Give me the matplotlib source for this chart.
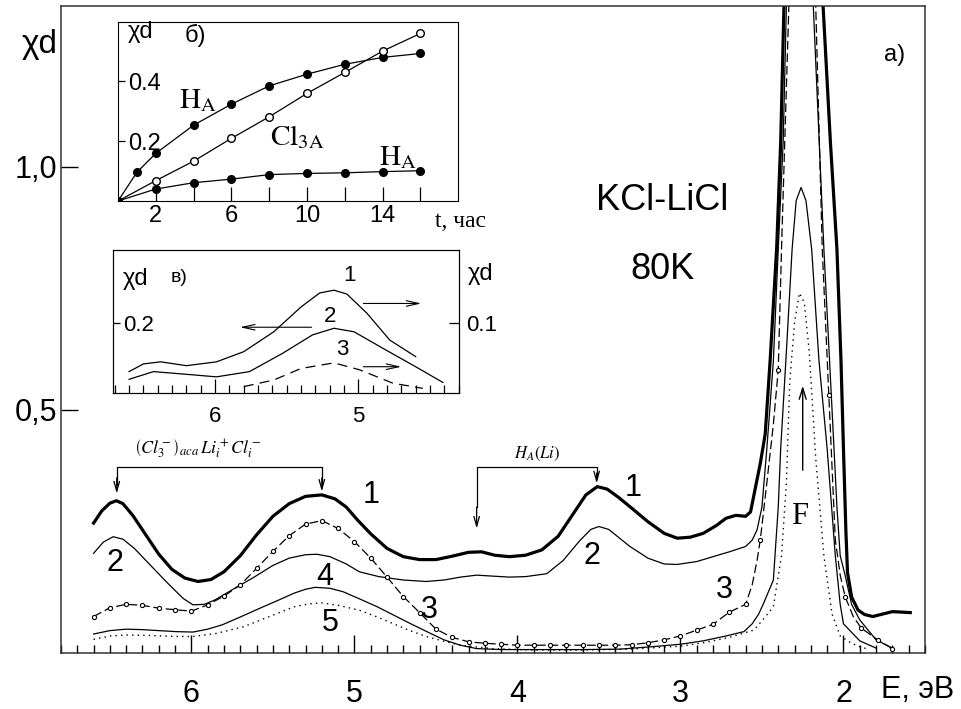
import numpy as np
import matplotlib.pyplot as plt
from matplotlib.ticker import MultipleLocator, FixedLocator

plt.rcParams['font.family'] = ['Liberation Sans', 'DejaVu Sans']
plt.rcParams['mathtext.fontset'] = 'stix'

# ---- main panel a): curves 1..5, E (eV) vs chi*d
E1 = [6.60, 6.55, 6.50, 6.46, 6.42, 6.36, 6.28, 6.20, 6.12, 6.04, 5.96, 5.88, 5.80, 5.70, 5.60, 5.50,
      5.40, 5.30, 5.20, 5.12, 5.05, 4.98, 4.90, 4.80, 4.70, 4.60, 4.50, 4.40, 4.30, 4.22, 4.14, 4.05,
      3.95, 3.85, 3.75, 3.66, 3.58, 3.51, 3.45, 3.38, 3.30, 3.20, 3.10, 3.02, 2.94, 2.86, 2.78, 2.72,
      2.66, 2.60, 2.57, 2.54, 2.51, 2.48, 2.45, 2.41, 2.385, 2.365, 2.33, 2.25, 2.20, 2.15, 2.125,
      2.08, 2.04, 2.015, 2.00, 1.985, 1.975, 1.95, 1.91, 1.87, 1.82, 1.76, 1.70, 1.64, 1.59]
Y1 = [0.267, 0.292, 0.308, 0.313, 0.307, 0.283, 0.243, 0.203, 0.172, 0.154, 0.147, 0.151, 0.167, 0.200,
      0.243, 0.281, 0.307, 0.322, 0.325, 0.317, 0.300, 0.273, 0.245, 0.215, 0.198, 0.192, 0.192, 0.199,
      0.207, 0.208, 0.201, 0.198, 0.201, 0.212, 0.240, 0.285, 0.325, 0.342, 0.337, 0.320, 0.298, 0.270,
      0.246, 0.236, 0.238, 0.246, 0.262, 0.277, 0.283, 0.281, 0.290, 0.340, 0.390, 0.450, 0.600, 0.830,
      1.05, 1.33, 1.80, 2.20, 2.00, 1.60, 1.33, 1.05, 0.83, 0.60, 0.42, 0.25, 0.165, 0.115, 0.088, 0.079,
      0.075, 0.080, 0.085, 0.084, 0.083]

E2 = [6.60, 6.54, 6.48, 6.42, 6.35, 6.25, 6.15, 6.05, 5.99, 5.92, 5.85, 5.75, 5.62, 5.50, 5.40, 5.30,
      5.23, 5.15, 5.05, 4.97, 4.85, 4.70, 4.56, 4.45, 4.35, 4.25, 4.15, 4.05, 3.95, 3.82, 3.72, 3.62,
      3.55, 3.50, 3.44, 3.31, 3.20, 3.10, 3.02, 2.90, 2.80, 2.70, 2.60, 2.56, 2.53, 2.50, 2.47, 2.43,
      2.40, 2.37, 2.35, 2.30, 2.25, 2.20, 2.185, 2.12, 2.07, 2.04, 2.02, 1.99, 1.95, 1.90, 1.80, 1.70]
Y2 = [0.205, 0.228, 0.239, 0.234, 0.215, 0.180, 0.145, 0.112, 0.099, 0.100, 0.110, 0.130, 0.155, 0.180,
      0.195, 0.202, 0.203, 0.198, 0.183, 0.167, 0.157, 0.150, 0.147, 0.150, 0.156, 0.160, 0.158, 0.156,
      0.157, 0.163, 0.190, 0.230, 0.254, 0.260, 0.254, 0.219, 0.195, 0.183, 0.182, 0.188, 0.198, 0.208,
      0.219, 0.232, 0.253, 0.300, 0.420, 0.600, 0.830, 1.05, 1.33, 1.90, 2.10, 1.60, 1.33, 0.83, 0.50,
      0.30, 0.20, 0.16, 0.100, 0.068, 0.027, 0.010]

E3 = [6.60, 6.50, 6.40, 6.30, 6.20, 6.10, 6.00, 5.90, 5.80, 5.70, 5.60, 5.50, 5.40, 5.30, 5.20, 5.10,
      5.00, 4.90, 4.80, 4.70, 4.60, 4.50, 4.40, 4.30, 4.20, 4.10, 4.00, 3.90, 3.80, 3.70, 3.60, 3.50,
      3.40, 3.30, 3.20, 3.10, 3.00, 2.90, 2.80, 2.70, 2.60, 2.56, 2.53, 2.51, 2.47, 2.43, 2.40, 2.38,
      2.335, 2.30, 2.25, 2.20, 2.17, 2.13, 2.09, 2.05, 2.02, 1.99, 1.94, 1.89, 1.79, 1.70]
Y3 = [0.075, 0.093, 0.100, 0.098, 0.092, 0.089, 0.086, 0.099, 0.117, 0.140, 0.174, 0.209, 0.241, 0.265,
      0.272, 0.256, 0.229, 0.195, 0.156, 0.116, 0.083, 0.049, 0.032, 0.023, 0.020, 0.018, 0.016, 0.016,
      0.016, 0.016, 0.016, 0.016, 0.016, 0.017, 0.021, 0.027, 0.035, 0.047, 0.059, 0.084, 0.100, 0.140,
      0.190, 0.233, 0.350, 0.470, 0.582, 0.830, 1.33, 1.80, 2.00, 1.80, 1.33, 0.83, 0.531, 0.233, 0.160,
      0.116, 0.075, 0.051, 0.027, 0.009]
marks3 = [i for i in range(41)] + [43, 46, 54, 57, 59, 60, 61]

E4 = [6.60, 6.50, 6.40, 6.30, 6.20, 6.10, 5.99, 5.90, 5.81, 5.70, 5.58, 5.47, 5.37, 5.30, 5.24, 5.15,
      5.07, 4.96, 4.86, 4.76, 4.66, 4.55, 4.45, 4.35, 4.25, 4.10, 3.90, 3.60, 3.37, 3.17, 3.00, 2.86,
      2.72, 2.61, 2.56, 2.52, 2.49, 2.43, 2.40, 2.385, 2.35, 2.315, 2.29, 2.26, 2.23, 2.195, 2.15, 2.10,
      2.05, 2.02, 2.00, 1.90, 1.80]
Y4 = [0.039, 0.046, 0.049, 0.048, 0.046, 0.044, 0.043, 0.049, 0.058, 0.074, 0.092, 0.108, 0.123, 0.131,
      0.135, 0.133, 0.126, 0.110, 0.095, 0.078, 0.061, 0.043, 0.027, 0.016, 0.009, 0.007, 0.007, 0.007,
      0.008, 0.013, 0.018, 0.025, 0.035, 0.044, 0.060, 0.080, 0.102, 0.150, 0.300, 0.420, 0.620, 0.830,
      0.930, 0.957, 0.930, 0.830, 0.600, 0.420, 0.200, 0.100, 0.060, 0.025, 0.010]

E5 = [6.60, 6.50, 6.40, 6.25, 6.10, 5.99, 5.85, 5.68, 5.52, 5.37, 5.28, 5.20, 5.10, 4.97, 4.86, 4.76,
      4.66, 4.56, 4.45, 4.35, 4.15, 3.90, 3.60, 3.30, 3.00, 2.86, 2.70, 2.55, 2.49, 2.43, 2.38, 2.35,
      2.33, 2.30, 2.27, 2.24, 2.21, 2.17, 2.12, 2.07, 2.02, 1.95, 1.90, 1.85]
Y5 = [0.028, 0.035, 0.037, 0.036, 0.034, 0.034, 0.040, 0.054, 0.075, 0.095, 0.101, 0.103, 0.098, 0.088,
      0.074, 0.060, 0.046, 0.034, 0.024, 0.016, 0.009, 0.006, 0.006, 0.008, 0.014, 0.021, 0.032, 0.047,
      0.070, 0.095, 0.200, 0.350, 0.555, 0.680, 0.740, 0.720, 0.620, 0.400, 0.200, 0.080, 0.035, 0.020,
      0.013, 0.008]

# ---- inset б): growth vs time
t_b = [0, 1, 2, 4, 6, 8, 10, 12, 14, 16]
HA_up = [0, 0.096, 0.159, 0.253, 0.323, 0.384, 0.423, 0.456, 0.479, 0.492]
t_c = [0, 2, 4, 6, 8, 10, 12, 14, 16]
Cl3A = [0, 0.068, 0.133, 0.209, 0.281, 0.359, 0.429, 0.500, 0.559]
HA_low = [0, 0.040, 0.061, 0.073, 0.088, 0.092, 0.094, 0.098, 0.101]

# ---- inset в): spectra 1..3
Ev1 = [6.60, 6.50, 6.38, 6.20, 5.99, 5.80, 5.59, 5.40, 5.27, 5.17, 5.08, 4.94, 4.78, 4.60]
Yv1 = [0.062, 0.084, 0.090, 0.079, 0.090, 0.119, 0.176, 0.247, 0.287, 0.295, 0.284, 0.229, 0.152, 0.105]
Ev2 = [6.60, 6.43, 6.22, 5.99, 5.76, 5.53, 5.32, 5.17, 5.03, 4.83, 4.60, 4.41]
Yv2 = [0.040, 0.062, 0.055, 0.047, 0.062, 0.114, 0.167, 0.186, 0.176, 0.129, 0.076, 0.031]
Ev3 = [5.80, 5.59, 5.40, 5.17, 4.99, 4.76, 4.55]
Yv3 = [0.019, 0.038, 0.071, 0.087, 0.067, 0.029, 0.014]

fig = plt.figure(figsize=(9.62, 7.09), dpi=100)
ax = fig.add_axes([0.0634, 0.079, 0.8981, 0.9125])
ax.set_xlim(6.8, 1.5)
ax.set_ylim(0, 1.33)

ax.plot(E1, Y1, color='black', lw=2.3)
ax.plot(E2, Y2, color='black', lw=0.9)
ax.plot(E3, Y3, color='black', lw=0.9, ls=(0, (7, 3)), marker='o', ms=3, mfc='white', mew=0.8,
        markevery=marks3)
ax.plot(E4, Y4, color='black', lw=0.9)
ax.plot(E5, Y5, color='black', lw=1.0, ls=(0, (1, 3)))

ax.xaxis.set_major_locator(MultipleLocator(1))
ax.xaxis.set_minor_locator(MultipleLocator(0.1))
ax.yaxis.set_major_locator(FixedLocator([0.5, 1.0]))
ax.set_yticklabels(['0,5', '1,0'])
ax.tick_params(axis='x', which='major', direction='in', length=13, width=1, pad=19, labelsize=22)
ax.tick_params(axis='x', which='minor', direction='in', length=6, width=1)
ax.tick_params(axis='y', which='major', direction='in', length=12, width=1, pad=3, labelsize=22)
for s in ax.spines.values():
    s.set_linewidth(1.1)
    s.set_color('#333333')

ax.text(-0.025, 0.94, 'χd', transform=ax.transAxes, fontsize=24, ha='center', va='center')
ax.text(0.991, -0.057, 'E, эВ', transform=ax.transAxes, fontsize=22, ha='center', va='center')
ax.text(0.965, 0.924, 'a)', transform=ax.transAxes, fontsize=17, ha='center', va='center')
ax.text(3.11, 0.93, 'KCl-LiCl', fontsize=26, ha='center', va='center')
ax.text(3.11, 0.788, '80K', fontsize=26, ha='center', va='center')

for lab, e, y in [('1', 4.90, 0.325), ('1', 3.29, 0.34), ('2', 6.47, 0.185), ('2', 3.54, 0.20),
                  ('3', 4.54, 0.088), ('3', 2.73, 0.13), ('4', 5.18, 0.157), ('5', 5.15, 0.062)]:
    ax.text(e, y, lab, fontsize=22, ha='center', va='center')
ax.text(2.27, 0.28, 'F', fontsize=22, family='Liberation Serif', ha='center', va='center')
ax.annotate('', xy=(2.25, 0.555), xytext=(2.25, 0.37),
            arrowprops=dict(arrowstyle='->,head_length=0.8,head_width=0.25', lw=1.0, color='black'))

arr = dict(arrowstyle='->,head_length=0.7,head_width=0.2', lw=0.9, color='black', shrinkA=0, shrinkB=0)
ax.plot([6.458, 6.458, 5.20, 5.20], [0.345, 0.382, 0.382, 0.345], color='black', lw=0.9)
ax.annotate('', xy=(6.458, 0.328), xytext=(6.458, 0.36), arrowprops=arr)
ax.annotate('', xy=(5.20, 0.332), xytext=(5.20, 0.36), arrowprops=arr)
ax.text(5.96, 0.418, r'$\left(Cl_3^-\right)_{aca}\,Li_i^+Cl_i^-$', fontsize=13, ha='center', va='center')
ax.plot([4.25, 4.25, 3.514, 3.514], [0.30, 0.383, 0.383, 0.36], color='black', lw=0.9)
ax.annotate('', xy=(4.25, 0.256), xytext=(4.25, 0.30), arrowprops=arr)
ax.annotate('', xy=(3.514, 0.349), xytext=(3.514, 0.37), arrowprops=arr)
ax.text(3.88, 0.41, r'$H_A(Li)$', fontsize=12, ha='center', va='center')

# ---- inset б)
axb = fig.add_axes([0.1227, 0.7165, 0.3537, 0.2529])
axb.set_xlim(0, 18)
axb.set_ylim(0, 0.598)
axb.plot(t_b, HA_up, color='black', lw=0.9, marker='o', ms=5.5, mfc='black')
axb.plot(t_c, Cl3A, color='black', lw=0.9, marker='o', ms=5.5, mfc='white')
axb.plot(t_c, HA_low, color='black', lw=0.9, marker='o', ms=5.5, mfc='black')
axb.xaxis.set_major_locator(FixedLocator([2, 6, 10, 14]))
axb.xaxis.set_minor_locator(FixedLocator([4, 8, 12, 16]))
axb.yaxis.set_major_locator(FixedLocator([0.2, 0.4]))
axb.set_yticklabels(['0.2', '0.4'])
axb.tick_params(axis='x', which='both', direction='in', length=10, width=0.9, pad=3, labelsize=17)
axb.tick_params(axis='y', direction='in', length=5, width=0.9, pad=-7, labelsize=17)
for lab in axb.get_yticklabels():
    lab.set_horizontalalignment('left')
axb.text(0.067, 0.94, 'χd', transform=axb.transAxes, fontsize=17, ha='center', va='center')
axb.text(0.226, 0.926, 'б)', transform=axb.transAxes, fontsize=17, ha='center', va='center')
axb.text(4.24, 0.337, r'$\mathrm{H_A}$', fontsize=21, ha='center', va='center')
axb.text(9.5, 0.213, r'$\mathrm{Cl_{3A}}$', fontsize=21, ha='center', va='center')
axb.text(14.8, 0.147, r'$\mathrm{H_A}$', fontsize=21, ha='center', va='center')
axb.text(18.1, -0.067, 't, час', fontsize=17, family='Liberation Serif', ha='center', va='center')

# ---- inset в)
axv = fig.add_axes([0.1178, 0.4453, 0.3597, 0.2021])
axv.set_xlim(6.71, 4.295)
axv.set_ylim(0, 0.41)
axv.plot(Ev1, Yv1, color='black', lw=0.9)
axv.plot(Ev2, Yv2, color='black', lw=0.9)
axv.plot(Ev3, Yv3, color='black', lw=0.9, ls=(0, (8, 5)))
axv.xaxis.set_major_locator(MultipleLocator(1))
axv.xaxis.set_minor_locator(MultipleLocator(0.1))
axv.yaxis.set_major_locator(FixedLocator([0.2]))
axv.set_yticklabels(['0.2'])
axv.tick_params(axis='x', which='major', direction='in', length=10, width=0.9, pad=9, labelsize=16)
axv.tick_params(axis='x', which='minor', direction='in', length=6, width=0.9)
axv.tick_params(axis='y', direction='in', length=5, width=0.9, pad=-7, labelsize=16)
for lab in axv.get_yticklabels():
    lab.set_horizontalalignment('left')
axv2 = axv.twinx()
axv2.set_ylim(0, 0.205)
axv2.yaxis.set_major_locator(FixedLocator([0.1]))
axv2.set_yticklabels(['0.1'])
axv2.tick_params(axis='y', direction='in', length=7, width=0.9, pad=5, labelsize=16)
axv.text(0.065, 0.8, 'χd', transform=axv.transAxes, fontsize=17, ha='center', va='center')
axv.text(0.19, 0.81, 'в)', transform=axv.transAxes, fontsize=14, ha='center', va='center')
axv.text(1.06, 0.83, 'χd', transform=axv.transAxes, fontsize=17, ha='center', va='center')
axv.text(5.06, 0.337, '1', fontsize=16, ha='center', va='center')
axv.text(5.20, 0.219, '2', fontsize=16, ha='center', va='center')
axv.text(5.11, 0.125, '3', fontsize=16, ha='center', va='center')
varr = dict(arrowstyle='->,head_length=0.9,head_width=0.2', lw=0.8, color='black', shrinkA=0, shrinkB=0)
axv.annotate('', xy=(4.56, 0.257), xytext=(4.965, 0.257), arrowprops=varr)
axv.annotate('', xy=(5.826, 0.189), xytext=(5.326, 0.189), arrowprops=varr)
axv.annotate('', xy=(4.70, 0.076), xytext=(4.965, 0.076), arrowprops=varr)

fig.savefig('out.png', dpi=100)
